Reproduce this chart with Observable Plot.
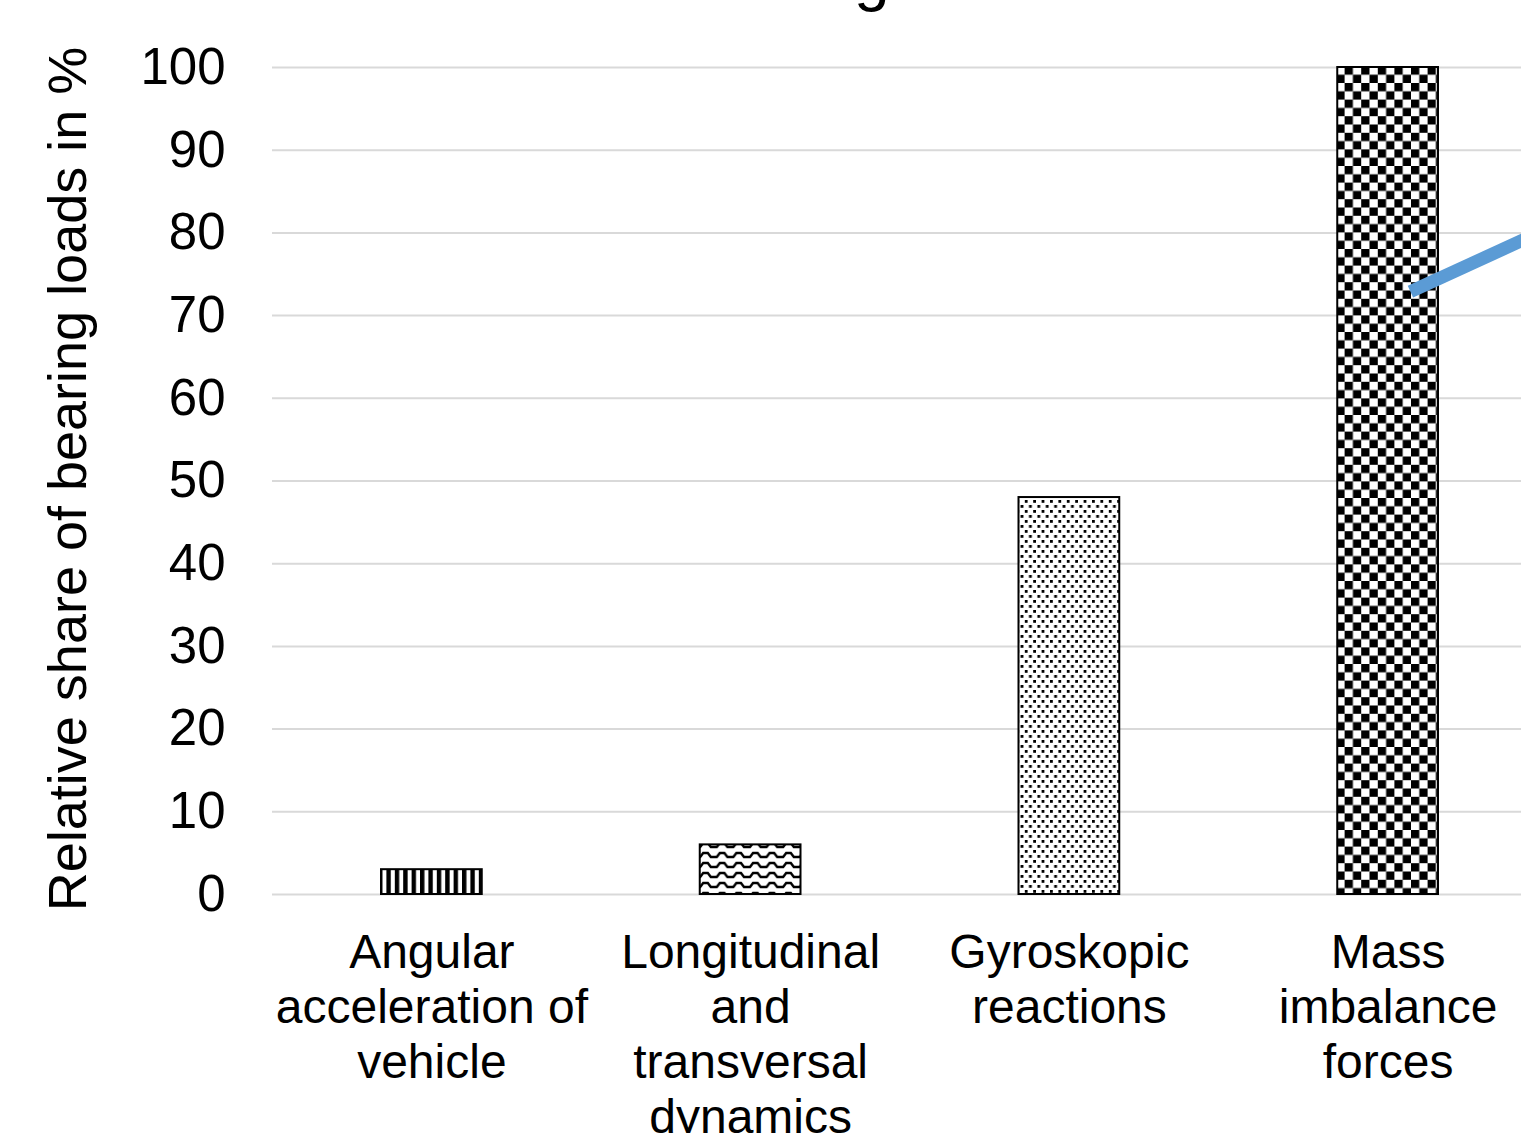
<!DOCTYPE html>
<html><head><meta charset="utf-8">
<script src="https://cdn.jsdelivr.net/npm/d3@7"></script>
<script src="https://cdn.jsdelivr.net/npm/@observablehq/plot@0.6"></script>
<style>
html,body{margin:0;padding:0;background:#fff;overflow:hidden;width:1521px;height:1133px}
#chart{position:relative;width:1521px;height:1133px;overflow:hidden}
#chart svg{max-width:none !important}
</style></head><body><div id="chart"></div>
<script>
// ---- data ----
const categories = ["Angular acceleration of vehicle", "Longitudinal and transversal dynamics", "Gyroskopic reactions", "Mass imbalance forces"];
const tickLabels = ["Angular\nacceleration of\nvehicle", "Longitudinal\nand\ntransversal\ndynamics", "Gyroskopic\nreactions", "Mass\nimbalance\nforces"];
const values = [3, 6, 48, 100];
const patterns = ["stripes", "waves", "dots", "checker"];
const yTicks = [0, 10, 20, 30, 40, 50, 60, 70, 80, 90, 100];
const yLabel = "Relative share of bearing loads in %";
const title = "Bearing loads";
// annotation line (category units, percent)
const arrowX = [3.07, 3.5];
const arrowY = [72.9, 80.5];

const data = categories.map((c, i) => ({category: c, i, value: values[i], pattern: patterns[i]}));
const arrow = arrowX.map((x, k) => ({x, y: arrowY[k]}));

const font = "'Liberation Sans', Arial, sans-serif";
const plot = Plot.plot({
  width: 1547, height: 1133,
  marginLeft: 272, marginRight: 0, marginTop: 67, marginBottom: 239,
  style: {fontFamily: font, background: "white", color: "black", overflow: "visible", maxWidth: "none"},
  color: {type: "identity"},
  x: {type: "linear", domain: [-0.5, 3.5], axis: null},
  y: {domain: [0, 100], axis: null},
  marks: [
    Plot.gridY(yTicks, {stroke: "#d9d9d9", strokeOpacity: 1, strokeWidth: 2}),
    Plot.rectY(data, {x1: d => d.i - 0.5, x2: d => d.i + 0.5, y: "value", insetLeft: 109, insetRight: 109,
      fill: d => `url(#pat-${d.pattern})`, stroke: "black", strokeWidth: 2}),
    Plot.line(arrow, {x: "x", y: "y", stroke: "#5b9bd5", strokeWidth: 13, strokeLinecap: "butt"}),
    Plot.axisY(yTicks, {tickSize: 0, tickPadding: 47, fontSize: 51, label: null, fill: "black"}),
    Plot.text([yLabel], {frameAnchor: "left", rotate: -90, textAnchor: "middle", dx: -204, dy: -2, fontSize: 54, fill: "black"}),
    Plot.axisX(data.map(d => d.i), {tickSize: 0, tickPadding: 34, fontSize: 48, lineHeight: 1.15,
      tickFormat: i => tickLabels[i], label: null, fill: "black"})
  ]
});

const svg = d3.select(plot);
const defs = svg.insert("defs", ":first-child");
// vertical stripes
const ps = defs.append("pattern").attr("id", "pat-stripes").attr("patternUnits", "userSpaceOnUse").attr("width", 8.4).attr("height", 10);
ps.append("rect").attr("width", 8.4).attr("height", 10).attr("fill", "white");
ps.append("rect").attr("width", 4.4).attr("height", 10).attr("fill", "black");
// waves
const pw = defs.append("pattern").attr("id", "pat-waves").attr("patternUnits", "userSpaceOnUse").attr("width", 16.6).attr("height", 10);
pw.append("rect").attr("width", 16.6).attr("height", 10).attr("fill", "white");
pw.append("path").attr("d", "M0,7 L3,7 L6,3 L10.6,3 L13.6,7 L16.6,7").attr("fill", "none").attr("stroke", "black").attr("stroke-width", 2.4);
// dots
const pd = defs.append("pattern").attr("id", "pat-dots").attr("patternUnits", "userSpaceOnUse").attr("width", 8.4).attr("height", 10);
pd.append("rect").attr("width", 8.4).attr("height", 10).attr("fill", "white");
pd.append("rect").attr("x", 0).attr("y", 0).attr("width", 2.8).attr("height", 2.8).attr("fill", "black");
pd.append("rect").attr("x", 4.2).attr("y", 5).attr("width", 2.8).attr("height", 2.8).attr("fill", "black");
// checker
const pc = defs.append("pattern").attr("id", "pat-checker").attr("patternUnits", "userSpaceOnUse").attr("width", 16.6).attr("height", 16.6);
pc.append("rect").attr("width", 16.6).attr("height", 16.6).attr("fill", "white");
pc.append("rect").attr("width", 8.3).attr("height", 8.3).attr("fill", "black");
pc.append("rect").attr("x", 8.3).attr("y", 8.3).attr("width", 8.3).attr("height", 8.3).attr("fill", "black");

// title (mostly above the visible area, as in the reference)
svg.append("text").attr("x", 669).attr("y", -1).attr("text-anchor", "start")
  .attr("font-family", font).attr("font-size", 64).attr("fill", "black").text(title);

document.getElementById("chart").appendChild(plot);
</script></body></html>
